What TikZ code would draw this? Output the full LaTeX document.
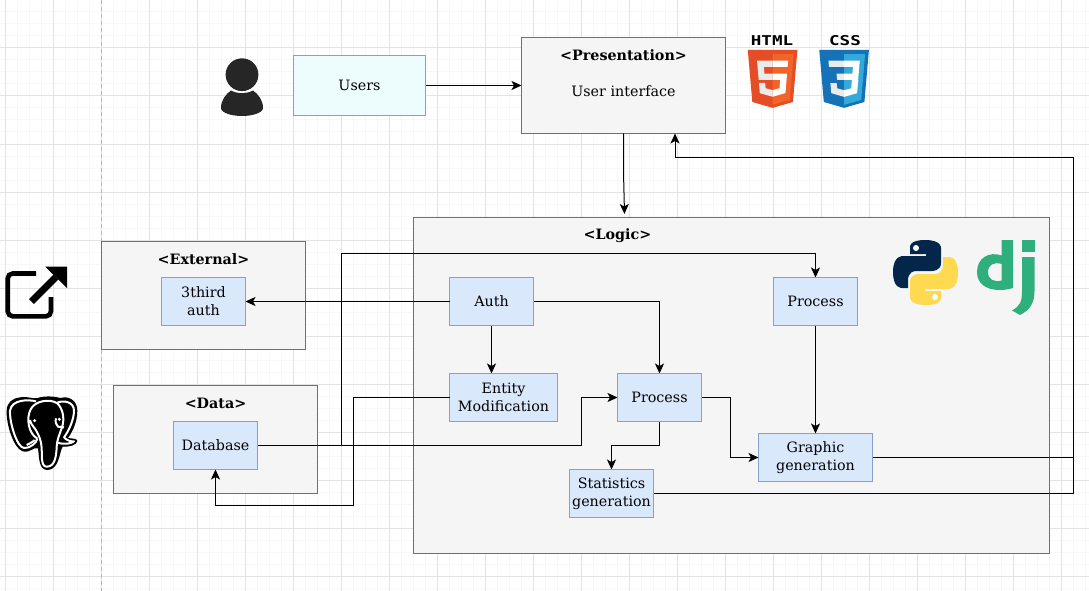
\documentclass[tikz,border=0pt]{standalone}
\usepackage{fontspec}
\setmainfont{DejaVu Serif}
\setmonofont{DejaVu Sans Mono}
\usepackage{xcolor}
\usepackage{tikz}
\usetikzlibrary{arrows.meta,positioning}
\definecolor{procblue}{HTML}{DAE8FC}
\definecolor{procline}{HTML}{84A0CB}
\definecolor{usercyan}{HTML}{EDFCFC}
\definecolor{layerfill}{HTML}{F5F5F5}
\definecolor{layerline}{HTML}{707070}
\definecolor{htmldark}{HTML}{E44D26}
\definecolor{htmllight}{HTML}{F16529}
\definecolor{cssdark}{HTML}{1572B6}
\definecolor{csslight}{HTML}{33A9DC}
\definecolor{pyblue}{HTML}{03264A}
\definecolor{pyyellow}{HTML}{FFD94F}
\definecolor{djgreen}{HTML}{2FAE7E}
\tikzset{
  basebox/.style={rectangle, draw, line width=1.2pt, inner sep=0pt, outer sep=0pt, align=center, font=\fontsize{14.3}{18}\selectfont},
  procbox/.style={basebox, fill=procblue, draw=procline, minimum width=84pt, minimum height=48pt},
  userbox/.style={basebox, fill=usercyan, draw=procline, minimum width=132pt, minimum height=60pt},
  layerbox/.style={basebox, fill=layerfill, draw=layerline},
  layertitle/.style={font=\fontsize{14.3}{18}\selectfont\bfseries, inner sep=0pt},
  layertext/.style={font=\fontsize{14.3}{18}\selectfont, inner sep=0pt},
  logotitle/.style={font=\fontsize{13.5}{14}\selectfont\ttfamily\bfseries, inner sep=0pt, xscale=1.3},
  arrow/.style={-{Stealth[length=10pt,width=9pt,inset=2.5pt]}, line width=1pt},
  plainline/.style={line width=1pt},
  majorgrid/.style={line width=1pt, draw=black!11},
  minorgrid/.style={line width=1pt, draw=black!3},
}
% one half of the python logo, 65 by 65 units
\newcommand{\pysnake}[1]{
  \fill[#1] (32,0) .. controls (16,0) and (17,7) .. (17,7) -- (17,14) -- (33,14) -- (33,16) -- (10,16)
    .. controls (10,16) and (0,15) .. (0,32) .. controls (0,49) and (9,48) .. (9,48) -- (15,48) -- (15,40)
    .. controls (15,40) and (14.5,31) .. (23.5,31) -- (39,31) .. controls (39,31) and (48,31) .. (48,23)
    -- (48,8) .. controls (48,8) and (49,0) .. (32,0) -- cycle;
  \fill[white] (23,8) circle (3);
}
% shield shared by the two web logos, 512 units wide
\newcommand{\weblogo}[2]{
  \fill[#1] (71,460) -- (30,0) -- (481,0) -- (440,460) -- (255,512) -- cycle;
  \fill[#2] (256,37) -- (446,37) -- (411,442) -- (256,485) -- cycle;
}
\begin{document}
\begin{tikzpicture}[x=1pt, y=-1pt, node distance=48pt]
  \useasboundingbox (0,0) rectangle (1089,591);
  \fill[white] (0,0) rectangle (1089,591);

  % Grid
  \foreach \gx in {5,17,...,1085} \draw[minorgrid] (\gx,0) -- (\gx,591);
  \foreach \gy in {0,12,...,588} \draw[minorgrid] (0,\gy) -- (1089,\gy);
  \foreach \gx in {5,53,...,1085} \draw[majorgrid] (\gx,0) -- (\gx,591);
  \foreach \gy in {0,48,...,588} \draw[majorgrid] (0,\gy) -- (1089,\gy);
  \draw[line width=1pt, draw=black!28, dash pattern=on 4pt off 3pt] (101.5,0) -- (101.5,591);

  % Layers
  \node[userbox] (users) at (359.5,85.5) {Users};
  \node[layerbox, minimum width=204pt, minimum height=96pt] (pres) at (623.5,85.5) {};
  \node[layerbox, minimum width=636pt, minimum height=336pt] (logic) at (731.5,385.5) {};
  \node[layerbox, minimum width=204pt, minimum height=108pt] (external) at (203.5,295.5) {};
  \node[layerbox, minimum width=204pt, minimum height=108pt] (data) at (215.5,439.5) {};

  % Layer titles
  \node[layertitle, above of=pres, yshift=-18pt] (prestitle) {<Presentation>};
  \node[layertext, below of=prestitle, yshift=12pt] (prestext) {User interface};
  \node[layertitle, above of=external, yshift=-12pt] (externaltitle) {<External>};
  \node[layertitle, above of=data, yshift=-12pt] (datatitle) {<Data>};
  \node[layertitle, above of=logic, xshift=-114pt, yshift=101.5pt] (logictitle) {<Logic>};

  % Inner boxes
  \node[procbox, below of=external, yshift=42pt] (extauth) {3third\\auth};
  \node[procbox, below of=data, yshift=42pt] (db) {Database};
  \node[procbox] (auth) at (491.5,301.5) {Auth};
  \node[procbox, right of=auth, xshift=276pt] (proctop) {Process};
  \node[procbox, below of=auth, xshift=12pt, yshift=-48pt, minimum width=108pt] (entity) {Entity\\Modification};
  \node[procbox, right of=entity, xshift=108pt] (procmid) {Process};
  \node[procbox, below of=proctop, yshift=-108pt, minimum width=114pt] (graphic) {Graphic\\generation};
  \node[procbox, below of=procmid, xshift=-48pt, yshift=-48pt] (stats) {Statistics\\generation};

  % Connectors
  \coordinate (logicjog) at (623.5,172);
  \coordinate (logicin) at (624.5,214);
  \coordinate (rail) at ([xshift=201pt]graphic.east);
  \draw[arrow] (users) -- (pres);
  \draw[arrow] (pres.south) -- (logicjog) -- (logicin);
  \draw[arrow] (auth) -- (extauth);
  \draw[arrow] (auth) -- (auth |- entity.north);
  \draw[arrow] (auth) -| (procmid);
  \draw[arrow] (db.east) -- ++(84,0) -- ++(0,-192) -| (proctop);
  \draw[arrow] (db.east) -- ++(324,0) |- (procmid);
  \draw[arrow] (entity.west) -- ++(-96,0) -- ++(0,108) -| (db);
  \draw[arrow] (procmid) -- ++(71,0) |- (graphic);
  \draw[arrow] (procmid) -- ++(0,48) -| (stats);
  \draw[arrow] (proctop) -- (graphic);
  \draw[arrow] (graphic.east) -- (rail) -- ++(0,-300) -| ([xshift=51.5pt]pres.south);
  \draw[plainline] (stats.east) -| (rail);

  % Person
  \fill[black!85] (242,74.7) circle (16.4);
  \fill[black!85] (221,108) .. controls (221,100) and (226,94) .. (231,90.5)
    .. controls (237,94) and (247,94) .. (253,90.5)
    .. controls (258,94) and (263,100) .. (263,108)
    .. controls (263,113) and (252,116) .. (242,116)
    .. controls (232,116) and (221,113) .. (221,108) -- cycle;

  % HTML logo
  \node[logotitle] (htmltitle) at (772,41) {HTML};
  \begin{scope}[shift={(744.5,50)}, x=.11pt, y=-.113pt]
    \weblogo{htmldark}{htmllight}
    \fill[black!8] (256,208) -- (181,208) -- (176,150) -- (256,150) -- (256,94) -- (114,94) -- (129,265) -- (256,265) -- cycle;
    \fill[black!8] (256,355) -- (192,338) -- (188,292) -- (132,292) -- (139,382) -- (256,414) -- cycle;
    \fill[white] (255,208) -- (255,265) -- (325,265) -- (318,338) -- (255,355) -- (255,414) -- (372,381) -- (387,208) -- cycle;
    \fill[white] (255,94) -- (255,150) -- (392,150) -- (397,94) -- cycle;
  \end{scope}

  % CSS logo
  \node[logotitle] (csstitle) at (845,41) {CSS};
  \begin{scope}[shift={(816,50)}, x=.11pt, y=-.113pt]
    \weblogo{cssdark}{csslight}
    \fill[white] (256,208) -- (331,208) -- (336,150) -- (256,150) -- (256,93) -- (398,93) -- (383,265) -- (256,265) -- cycle;
    \fill[black!8] (256,93) -- (256,150) -- (118,150) -- (113,93) -- cycle;
    \fill[black!8] (256,208) -- (256,265) -- (192,265) -- (186,208) -- cycle;
    \fill[black!8] (256,356) -- (192,339) -- (188,293) -- (131,293) -- (139,382) -- (256,415) -- cycle;
    \fill[white] (326,265) -- (320,339) -- (256,356) -- (256,415) -- (373,382) -- (385,265) -- cycle;
  \end{scope}

  % Python logo
  \begin{scope}[shift={(893,240)}, x=1pt, y=-1pt]
    \pysnake{pyblue}
  \end{scope}
  \begin{scope}[shift={(958,305)}, x=-1pt, y=1pt]
    \pysnake{pyyellow}
  \end{scope}

  % Django logo
  \fill[djgreen, even odd rule] (1001.7,240) -- (1013,240) -- (1013,288)
    .. controls (1008,289.5) and (1004,290) .. (1000,290)
    .. controls (985,290) and (977,283) .. (977,272)
    .. controls (977,258) and (989,251) .. (1001.7,255.5) -- cycle
    (1001.7,264) .. controls (994,261.5) and (988,265) .. (988,272)
    .. controls (988,279.5) and (994,282.5) .. (1001.7,280.5) -- cycle;
  \fill[djgreen] (1022,240) rectangle (1034.5,252);
  \fill[djgreen] (1022,257) -- (1034.5,257) -- (1034.5,291)
    .. controls (1034.5,303) and (1030,310) .. (1020,315) -- (1012,310.5)
    .. controls (1020,306) and (1022,302) .. (1022,291) -- cycle;

  % External link icon
  \draw[line width=4.6pt, rounded corners=5pt] (36,273.5) -- (7.7,273.5) -- (7.7,316.3) -- (51,316.3) -- (51,297);
  \draw[line width=7pt] (31.5,301.5) -- (56,277);
  \fill (45,266.5) -- (67,266.5) -- (67,288) -- cycle;

  % Elephant icon
  \begin{scope}[shift={(0,390)}, x=.3333pt, y=-.3333pt]
    \fill (60,22) .. controls (85,18) and (100,28) .. (112,24) .. controls (140,16) and (165,20) .. (182,24)
      .. controls (205,17) and (232,30) .. (232,62) .. controls (232,95) and (218,125) .. (204,144)
      .. controls (215,146) and (232,145) .. (232,153) .. controls (232,165) and (205,172) .. (188,170)
      .. controls (178,185) and (178,240) .. (142,240) .. controls (115,240) and (118,200) .. (114,175)
      .. controls (100,170) and (90,190) .. (68,184) .. controls (40,175) and (18,100) .. (20,62)
      .. controls (20,38) and (38,24) .. (60,22) -- cycle;
    \draw[white, line width=2pt, line join=round]
      (108,34) .. controls (85,28) and (35,28) .. (30,62) .. controls (28,95) and (50,172) .. (72,174)
      .. controls (90,176) and (110,158) .. (112,146);
    \draw[white, line width=2pt, line join=round]
      (112,146) .. controls (85,130) and (78,85) .. (92,58) .. controls (105,32) and (150,25) .. (172,40)
      .. controls (188,55) and (195,85) .. (186,112) .. controls (178,135) and (170,150) .. (170,175)
      .. controls (168,200) and (165,230) .. (140,230) .. controls (120,230) and (128,190) .. (124,165)
      .. controls (122,150) and (118,140) .. (112,128) .. controls (105,112) and (92,105) .. (90,90);
    \draw[white, line width=2pt, line join=round]
      (172,38) .. controls (190,30) and (222,35) .. (222,62) .. controls (222,90) and (205,125) .. (192,142)
      .. controls (200,152) and (215,155) .. (222,154) .. controls (215,160) and (195,165) .. (172,158);
    \draw[white, line width=2pt] (80,165) .. controls (90,160) and (100,155) .. (104,150) (192,112) -- (174,110) .. controls (168,105) and (165,95) .. (168,85);
    \fill[white] (104,92) circle (5) (178,88) circle (5);
  \end{scope}
\end{tikzpicture}
\end{document}
